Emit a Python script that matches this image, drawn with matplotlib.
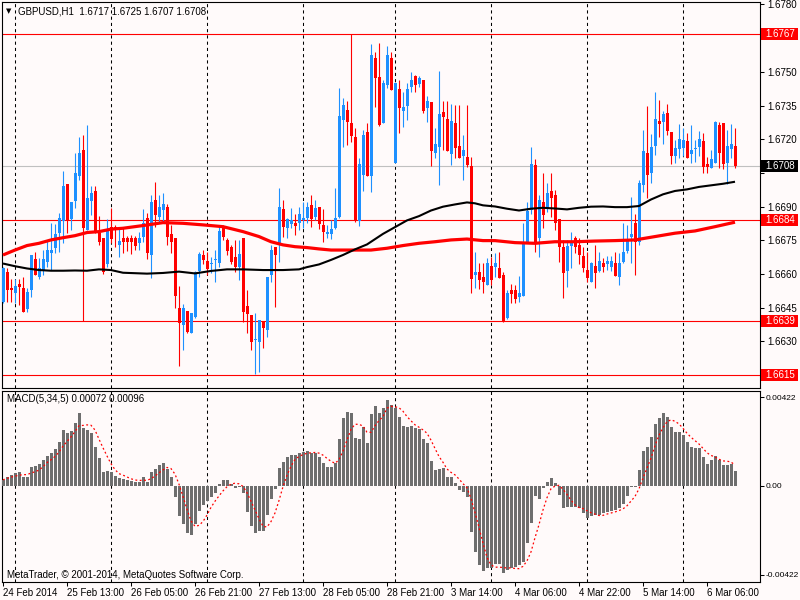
import matplotlib
matplotlib.use('Agg')
import matplotlib.pyplot as plt
import matplotlib.transforms as mtransforms
from matplotlib.patches import Rectangle
import numpy as np
import pandas as pd

# GBPUSD H1 candles, 24 Feb 21:00 .. 6 Mar 13:00
opens = [
    1.66475, 1.66610, 1.66540, 1.66517, 1.66558, 1.66537, 1.66446, 1.66527, 1.66669, 1.66585,
    1.66616, 1.66656, 1.66693, 1.66718, 1.66784, 1.66838, 1.67001, 1.66845, 1.66927, 1.67037,
    1.67152, 1.66796, 1.66926, 1.66970, 1.66781, 1.66762, 1.66645, 1.66811, 1.66811, 1.66729,
    1.66762, 1.66762, 1.66762, 1.66762, 1.66737, 1.66767, 1.66849, 1.66685, 1.66930, 1.66856,
    1.66885, 1.66900, 1.66779, 1.66762, 1.66448, 1.66374, 1.66436, 1.66337, 1.66410, 1.66614,
    1.66685, 1.66658, 1.66646, 1.66661, 1.66648, 1.66804, 1.66752, 1.66720, 1.66677, 1.66633,
    1.66759, 1.66458, 1.66418, 1.66305, 1.66297, 1.66391, 1.66351, 1.66594, 1.66722, 1.66730,
    1.66890, 1.66807, 1.66822, 1.66826, 1.66826, 1.66841, 1.66851, 1.66908, 1.66856, 1.66900,
    1.66819, 1.66777, 1.66777, 1.66807, 1.66856, 1.67286, 1.67330, 1.67271, 1.67212, 1.66837,
    1.67041, 1.67234, 1.67038, 1.67560, 1.67479, 1.67271, 1.67442, 1.67560, 1.67096, 1.67423,
    1.67327, 1.67348, 1.67432, 1.67482, 1.67446, 1.67464, 1.67341, 1.67367, 1.67138, 1.67167,
    1.67323, 1.67290, 1.67135, 1.67271, 1.67170, 1.67126, 1.67123, 1.67081, 1.66596, 1.66609,
    1.66589, 1.66552, 1.66636, 1.66630, 1.66629, 1.66596, 1.66403, 1.66529, 1.66529, 1.66497,
    1.66503, 1.66737, 1.66885, 1.67086, 1.66760, 1.66922, 1.66893, 1.66970, 1.66952, 1.66844,
    1.66722, 1.66615, 1.66725, 1.66762, 1.66730, 1.66682, 1.66618, 1.66566, 1.66636, 1.66615,
    1.66648, 1.66645, 1.66633, 1.66651, 1.66588, 1.66655, 1.66704, 1.66767, 1.66829, 1.66744,
    1.66997, 1.67141, 1.67049, 1.67170, 1.67281, 1.67279, 1.67318, 1.67231, 1.67126, 1.67156,
    1.67160, 1.67194, 1.67135, 1.67158, 1.67167, 1.67193, 1.67090, 1.67071, 1.67093, 1.67264,
    1.67274, 1.67096, 1.67156, 1.67170,
]
highs = [
    1.66630, 1.66629, 1.66578, 1.66580, 1.66578, 1.66587, 1.66537, 1.66685, 1.66700, 1.66670,
    1.66707, 1.66752, 1.66826, 1.66822, 1.66871, 1.67060, 1.67001, 1.66922, 1.67138, 1.67209,
    1.67219, 1.67264, 1.66992, 1.66992, 1.66859, 1.66762, 1.66844, 1.66893, 1.66819, 1.66811,
    1.66811, 1.66770, 1.66774, 1.66769, 1.66789, 1.66890, 1.66870, 1.66952, 1.67011, 1.66952,
    1.66962, 1.66910, 1.66819, 1.66762, 1.66546, 1.66467, 1.66436, 1.66428, 1.66615, 1.66700,
    1.66707, 1.66700, 1.66677, 1.66707, 1.66819, 1.66819, 1.66760, 1.66730, 1.66752, 1.66752,
    1.66759, 1.66529, 1.66418, 1.66426, 1.66396, 1.66391, 1.66589, 1.66730, 1.66722, 1.66982,
    1.66930, 1.66851, 1.66893, 1.66866, 1.66900, 1.66922, 1.66922, 1.66952, 1.66930, 1.66900,
    1.66890, 1.66819, 1.66841, 1.66982, 1.67427, 1.67385, 1.67370, 1.67670, 1.67249, 1.67116,
    1.67241, 1.67271, 1.67624, 1.67589, 1.67630, 1.67464, 1.67617, 1.67590, 1.67449, 1.67464,
    1.67412, 1.67452, 1.67501, 1.67486, 1.67482, 1.67464, 1.67393, 1.67367, 1.67252, 1.67505,
    1.67372, 1.67372, 1.67357, 1.67353, 1.67353, 1.67219, 1.67353, 1.67120, 1.66700, 1.66648,
    1.66648, 1.66670, 1.66678, 1.66693, 1.66697, 1.66611, 1.66529, 1.66556, 1.66552, 1.66592,
    1.66826, 1.66922, 1.67165, 1.67111, 1.66952, 1.67049, 1.67004, 1.67051, 1.66974, 1.66844,
    1.66752, 1.66752, 1.66789, 1.66771, 1.66759, 1.66722, 1.66700, 1.66655, 1.66730, 1.66700,
    1.66670, 1.66681, 1.66681, 1.66700, 1.66693, 1.66826, 1.66819, 1.66942, 1.66868, 1.67019,
    1.67241, 1.67348, 1.67224, 1.67412, 1.67375, 1.67328, 1.67357, 1.67231, 1.67197, 1.67268,
    1.67249, 1.67227, 1.67264, 1.67197, 1.67236, 1.67230, 1.67123, 1.67153, 1.67281, 1.67279,
    1.67274, 1.67241, 1.67268, 1.67250,
]
lows = [
    1.66470, 1.66475, 1.66476, 1.66470, 1.66464, 1.66433, 1.66433, 1.66500, 1.66596, 1.66580,
    1.66596, 1.66633, 1.66620, 1.66693, 1.66700, 1.66737, 1.66784, 1.66795, 1.66893, 1.67019,
    1.66390, 1.66796, 1.66863, 1.66784, 1.66730, 1.66600, 1.66633, 1.66737, 1.66722, 1.66678,
    1.66693, 1.66702, 1.66688, 1.66707, 1.66707, 1.66744, 1.66667, 1.66584, 1.66811, 1.66826,
    1.66826, 1.66730, 1.66693, 1.66448, 1.66193, 1.66262, 1.66337, 1.66337, 1.66405, 1.66586,
    1.66645, 1.66596, 1.66603, 1.66566, 1.66633, 1.66750, 1.66685, 1.66645, 1.66611, 1.66574,
    1.66388, 1.66337, 1.66262, 1.66154, 1.66166, 1.66273, 1.66320, 1.66566, 1.66455, 1.66655,
    1.66767, 1.66762, 1.66804, 1.66774, 1.66796, 1.66804, 1.66826, 1.66811, 1.66841, 1.66800,
    1.66744, 1.66759, 1.66755, 1.66800, 1.66849, 1.67167, 1.67175, 1.67189, 1.66833, 1.66816,
    1.66970, 1.67038, 1.66967, 1.67345, 1.67260, 1.67271, 1.67427, 1.67419, 1.67096, 1.67227,
    1.67256, 1.67286, 1.67412, 1.67412, 1.67434, 1.67316, 1.67279, 1.67081, 1.67116, 1.66997,
    1.67153, 1.67150, 1.67086, 1.67116, 1.67115, 1.67019, 1.67078, 1.66515, 1.66537, 1.66534,
    1.66515, 1.66552, 1.66552, 1.66588, 1.66584, 1.66385, 1.66400, 1.66470, 1.66470, 1.66477,
    1.66503, 1.66737, 1.66868, 1.66700, 1.66678, 1.66804, 1.66878, 1.66856, 1.66796, 1.66655,
    1.66495, 1.66544, 1.66626, 1.66695, 1.66645, 1.66611, 1.66566, 1.66566, 1.66537, 1.66611,
    1.66611, 1.66618, 1.66615, 1.66590, 1.66552, 1.66648, 1.66693, 1.66651, 1.66596, 1.66730,
    1.66967, 1.66938, 1.67007, 1.67130, 1.67212, 1.67179, 1.67219, 1.67090, 1.67096, 1.67116,
    1.67126, 1.67116, 1.67093, 1.67100, 1.67126, 1.67049, 1.67049, 1.67071, 1.67093, 1.67071,
    1.67067, 1.67001, 1.67116, 1.67070,
]
closes = [
    1.66626, 1.66527, 1.66527, 1.66545, 1.66544, 1.66433, 1.66519, 1.66685, 1.66596, 1.66629,
    1.66666, 1.66707, 1.66707, 1.66777, 1.66849, 1.66992, 1.66838, 1.66922, 1.67051, 1.67141,
    1.66804, 1.66940, 1.66960, 1.66784, 1.66744, 1.66608, 1.66800, 1.66755, 1.66796, 1.66749,
    1.66744, 1.66744, 1.66744, 1.66725, 1.66762, 1.66829, 1.66696, 1.66922, 1.66863, 1.66900,
    1.66911, 1.66767, 1.66744, 1.66503, 1.66382, 1.66448, 1.66344, 1.66428, 1.66610, 1.66689,
    1.66663, 1.66621, 1.66649, 1.66664, 1.66790, 1.66767, 1.66704, 1.66655, 1.66630, 1.66689,
    1.66433, 1.66421, 1.66297, 1.66309, 1.66396, 1.66359, 1.66589, 1.66707, 1.66685, 1.66900,
    1.66811, 1.66846, 1.66841, 1.66816, 1.66866, 1.66851, 1.66900, 1.66845, 1.66893, 1.66822,
    1.66786, 1.66789, 1.66800, 1.66851, 1.67305, 1.67353, 1.67279, 1.67216, 1.66841, 1.67089,
    1.67219, 1.67038, 1.67575, 1.67472, 1.67264, 1.67449, 1.67575, 1.67419, 1.67449, 1.67341,
    1.67342, 1.67423, 1.67464, 1.67442, 1.67472, 1.67326, 1.67372, 1.67149, 1.67179, 1.67313,
    1.67300, 1.67150, 1.67283, 1.67160, 1.67118, 1.67153, 1.67086, 1.66577, 1.66608, 1.66574,
    1.66566, 1.66648, 1.66574, 1.66648, 1.66584, 1.66388, 1.66515, 1.66512, 1.66488, 1.66515,
    1.66744, 1.66881, 1.67090, 1.66744, 1.66930, 1.66863, 1.66962, 1.66938, 1.66826, 1.66719,
    1.66606, 1.66725, 1.66749, 1.66719, 1.66685, 1.66626, 1.66584, 1.66648, 1.66606, 1.66660,
    1.66630, 1.66660, 1.66660, 1.66592, 1.66648, 1.66700, 1.66755, 1.66777, 1.66744, 1.67007,
    1.67149, 1.67041, 1.67165, 1.67289, 1.67268, 1.67313, 1.67238, 1.67126, 1.67160, 1.67200,
    1.67197, 1.67118, 1.67153, 1.67160, 1.67200, 1.67078, 1.67078, 1.67111, 1.67279, 1.67138,
    1.67090, 1.67170, 1.67179, 1.67080,
]

# moving averages, read at the bars listed
red_ma_idx = [0, 3, 6, 9, 12, 15, 18, 21, 24, 27, 30, 35, 40, 45, 50, 55, 60, 64, 67, 70,
              73, 76, 79, 82, 85, 88, 92, 96, 100, 104, 108, 112, 116, 120, 123, 128, 133,
              138, 143, 148, 153, 158, 163, 168, 173, 178, 183]
red_ma = [1.66685, 1.66707, 1.66727, 1.66737, 1.66752, 1.66762, 1.66771, 1.66785, 1.66789,
          1.66800, 1.66804, 1.66816, 1.66829, 1.66826, 1.66819, 1.66811, 1.66789, 1.66767,
          1.66744, 1.66730, 1.66722, 1.66718, 1.66712, 1.66707, 1.66707, 1.66707, 1.66707,
          1.66715, 1.66727, 1.66737, 1.66744, 1.66752, 1.66756, 1.66749, 1.66749, 1.66740,
          1.66737, 1.66744, 1.66744, 1.66747, 1.66749, 1.66752, 1.66767, 1.66782, 1.66792,
          1.66811, 1.66831]
black_ma_idx = [0, 3, 6, 9, 12, 15, 18, 21, 24, 27, 30, 36, 40, 44, 48, 52, 56, 60, 65, 70,
                74, 76, 79, 82, 85, 88, 91, 95, 98, 101, 104, 107, 110, 113, 116, 118, 120,
                123, 126, 129, 132, 135, 138, 141, 144, 147, 150, 153, 156, 159, 162, 165,
                168, 171, 174, 177, 180, 183]
black_ma = [1.66647, 1.66635, 1.66625, 1.66618, 1.66615, 1.66615, 1.66616, 1.66615, 1.66621,
            1.66618, 1.66606, 1.66602, 1.66605, 1.66611, 1.66603, 1.66614, 1.66621, 1.66621,
            1.66618, 1.66618, 1.66621, 1.66631, 1.66643, 1.66663, 1.66685, 1.66710, 1.66732,
            1.66779, 1.66809, 1.66839, 1.66858, 1.66883, 1.66900, 1.66910, 1.66919, 1.66915,
            1.66906, 1.66901, 1.66891, 1.66883, 1.66891, 1.66895, 1.66892, 1.66888, 1.66895,
            1.66900, 1.66901, 1.66898, 1.66898, 1.66903, 1.66932, 1.66955, 1.66970, 1.66977,
            1.66988, 1.66995, 1.67002, 1.67011]

# MACD(5,34,5) main line, one value per bar
macd = [
    0.00029, 0.00044, 0.00052, 0.00063, 0.00067, 0.00044, 0.00044, 0.00089, 0.00095, 0.00105,
    0.00124, 0.00143, 0.00155, 0.00175, 0.00209, 0.00267, 0.00254, 0.00263, 0.00301, 0.00349,
    0.00274, 0.00267, 0.00254, 0.00187, 0.00132, 0.00068, 0.00073, 0.00068, 0.00048, 0.00036,
    0.00033, 0.00029, 0.00025, 0.00021, 0.00021, 0.00044, 0.00021, 0.00068, 0.00081, 0.00100,
    0.00111, 0.00081, 0.00041, -0.00051, -0.00141, -0.00181, -0.00225, -0.00233, -0.00181, -0.00117,
    -0.00090, -0.00070, -0.00051, -0.00035, 0.00010, 0.00029, 0.00029, 0.00010, -0.00011, -0.00006,
    -0.00032, -0.00122, -0.00190, -0.00222, -0.00213, -0.00213, -0.00138, -0.00062, -0.00016, 0.00084,
    0.00116, 0.00136, 0.00148, 0.00148, 0.00155, 0.00160, 0.00168, 0.00159, 0.00155, 0.00140,
    0.00111, 0.00092, 0.00089, 0.00108, 0.00222, 0.00322, 0.00351, 0.00346, 0.00227, 0.00222,
    0.00279, 0.00206, 0.00343, 0.00381, 0.00349, 0.00370, 0.00409, 0.00386, 0.00370, 0.00327,
    0.00286, 0.00282, 0.00286, 0.00274, 0.00270, 0.00222, 0.00203, 0.00121, 0.00076, 0.00079,
    0.00084, 0.00044, 0.00041, 0.00016, -0.00019, -0.00027, -0.00054, -0.00217, -0.00313, -0.00376,
    -0.00403, -0.00392, -0.00392, -0.00371, -0.00371, -0.00416, -0.00400, -0.00392, -0.00384, -0.00376,
    -0.00360, -0.00270, -0.00178, -0.00048, -0.00063, -0.00011, 0.00021, 0.00036, 0.00013, -0.00043,
    -0.00106, -0.00102, -0.00098, -0.00102, -0.00106, -0.00130, -0.00154, -0.00143, -0.00138, -0.00138,
    -0.00127, -0.00122, -0.00117, -0.00114, -0.00106, -0.00086, -0.00048, -0.00006, -0.00003, 0.00076,
    0.00168, 0.00187, 0.00235, 0.00295, 0.00322, 0.00346, 0.00330, 0.00282, 0.00259, 0.00259,
    0.00243, 0.00211, 0.00187, 0.00179, 0.00179, 0.00140, 0.00105, 0.00124, 0.00143, 0.00124,
    0.00100, 0.00100, 0.00103, 0.00072,
]

levels = [1.6767, 1.6684, 1.6639, 1.6615]
last_price = 1.6708

price_ticks = [1.6780, 1.6765, 1.6750, 1.6735, 1.6720, 1.6705, 1.6690, 1.6675,
               1.6660, 1.6645, 1.6630, 1.6615]
# labels hidden behind the level boxes are left blank
price_tick_labels = ['1.6780', '', '1.6750', '1.6735', '1.6720', '', '1.6690', '1.6675',
                     '1.6660', '1.6645', '1.6630', '']
macd_ticks = [0.00422, 0.0, -0.00422]
macd_tick_labels = ['0.00422', '0.00', '-0.00422']
time_idx = [0, 16, 32, 48, 64, 80, 96, 112, 128, 144, 160, 176]
time_labels = ['24 Feb 2014', '25 Feb 13:00', '26 Feb 05:00', '26 Feb 21:00',
               '27 Feb 13:00', '28 Feb 05:00', '28 Feb 21:00', '3 Mar 14:00',
               '4 Mar 06:00', '4 Mar 22:00', '5 Mar 14:00', '6 Mar 06:00']
day_start_idx = [3, 27, 51, 75, 98, 122, 146, 170]

bg = '#FFFAFA'
up_col = '#1E90FF'
dn_col = '#FF0000'

plt.rcParams['font.family'] = ['Liberation Sans', 'DejaVu Sans']

fig = plt.figure(figsize=(8, 6), dpi=100, facecolor=bg)
ax = fig.add_axes([2 / 800, 1 - 388 / 600, 758 / 800, 386 / 600], facecolor=bg)
ax2 = fig.add_axes([2 / 800, 1 - 582 / 600, 758 / 800, 191 / 600], facecolor=bg)

o = np.array(opens)
h = np.array(highs)
l = np.array(lows)
c = np.array(closes)
x = np.arange(len(c))
cols = np.where(c >= o, up_col, dn_col)

# day separators
for a in (ax, ax2):
    for d in day_start_idx:
        a.axvline(d, color='black', lw=0.75, ls=(0, (3, 3)), zorder=1)

# levels and bid line
for lv in levels:
    ax.axhline(lv, color=dn_col, lw=0.8, zorder=2)
ax.axhline(last_price, color='#C0C0C0', lw=0.8, zorder=2)

# candles
ax.vlines(x, l, h, colors=cols, lw=0.8, zorder=3)
body_h = np.maximum(np.abs(c - o), 0.00004)
ax.bar(x, body_h, bottom=np.minimum(o, c), width=0.75, color=cols, linewidth=0, zorder=4)

# moving averages
ax.plot(red_ma_idx, red_ma, color=dn_col, lw=2.3, zorder=5, solid_capstyle='butt')
ax.plot(black_ma_idx, black_ma, color='black', lw=1.5, zorder=6, solid_capstyle='butt')

ax.set_xlim(-0.25, 189.25)
ax.set_ylim(1.66093, 1.67811)
ax.set_xticks([])
ax.yaxis.tick_right()
ax.set_yticks(price_ticks)
ax.set_yticklabels(price_tick_labels)
ax.tick_params(axis='y', length=3, width=0.75, pad=2, labelsize=7)

# price labels on the axis
tr = mtransforms.blended_transform_factory(ax.transAxes, ax.transData)
box_h = 12 / 22470
for lv, fc in [(lv, dn_col) for lv in levels] + [(last_price, 'black')]:
    ax.add_patch(Rectangle((759 / 758, lv - box_h / 2), 37 / 758, box_h, transform=tr,
                           facecolor=fc, edgecolor='none', clip_on=False, zorder=10))
    ax.text(763 / 758, lv, f'{lv:.4f}', transform=tr, color='white', fontsize=7,
            ha='left', va='center', clip_on=False, zorder=11)

# MACD panel
macd_s = pd.Series(macd)
signal = macd_s.rolling(5, min_periods=1).mean()
ax2.bar(x, macd, width=0.75, color='#6E6E6E', linewidth=0, zorder=3)
ax2.plot(x, signal, color=dn_col, lw=0.9, ls=(0, (1.5, 2)), zorder=4)
ax2.set_xlim(-0.25, 189.25)
ax2.set_ylim(-0.00457, 0.00452)
ax2.yaxis.tick_right()
ax2.set_yticks(macd_ticks)
ax2.set_yticklabels(macd_tick_labels)
ax2.tick_params(axis='y', length=3, width=0.75, pad=1, labelsize=6)
ax2.set_xticks(time_idx)
ax2.set_xticklabels(time_labels)
ax2.tick_params(axis='x', length=3, width=0.75, pad=1, labelsize=7)
for lab in ax2.get_xticklabels():
    lab.set_horizontalalignment('left')

for a in (ax, ax2):
    for s in a.spines.values():
        s.set_linewidth(0.8)
        s.set_color('black')

fig.text(9 / 800, 1 - 11 / 600, '\u25bc', fontsize=5, family='DejaVu Sans',
         ha='center', va='center')
fig.text(18 / 800, 1 - 11 / 600, 'GBPUSD,H1  1.6717 1.6725 1.6707 1.6708',
         fontsize=7, ha='left', va='center')
fig.text(7 / 800, 1 - 399 / 600, 'MACD(5,34,5) 0.00072 0.00096',
         fontsize=7, ha='left', va='center')
fig.text(7 / 800, 1 - 575 / 600, 'MetaTrader, \u00a9 2001-2014, MetaQuotes Software Corp.',
         fontsize=7, ha='left', va='center')

fig.savefig('out.png', dpi=100, facecolor=bg)
